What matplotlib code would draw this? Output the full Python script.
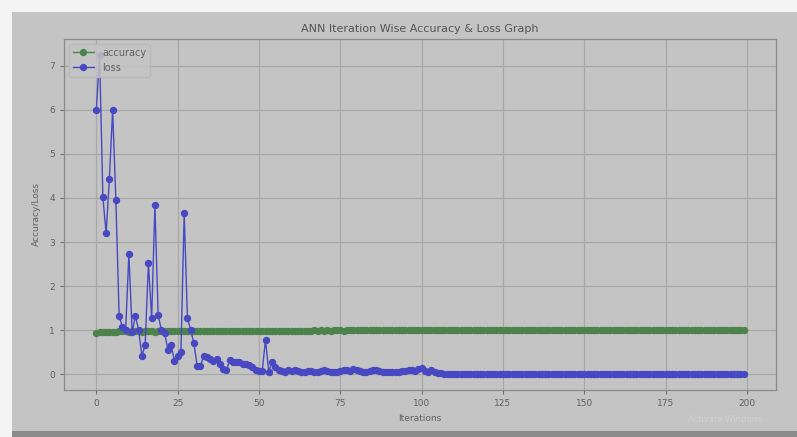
import matplotlib
matplotlib.use("Agg")
import matplotlib.pyplot as plt
from matplotlib.patches import Rectangle

title = "ANN Iteration Wise Accuracy & Loss Graph"
x_label = "Iterations"
y_label = "Accuracy/Loss"
series_names = ["accuracy", "loss"]
x_ticks = [0, 25, 50, 75, 100, 125, 150, 175, 200]
y_ticks = [0, 1, 2, 3, 4, 5, 6, 7]

accuracy = [
    0.93, 0.95, 0.96, 0.95, 0.96, 0.95, 0.96, 0.97, 0.97, 0.97,
    0.96, 0.97, 0.97, 0.97, 0.96, 0.97, 0.97, 0.97, 0.96, 0.97,
    0.97, 0.98, 0.97, 0.98, 0.98, 0.97, 0.98, 0.97, 0.98, 0.98,
    0.98, 0.98, 0.98, 0.98, 0.98, 0.98, 0.98, 0.99, 0.98, 0.99,
    0.98, 0.99, 0.99, 0.98, 0.99, 0.99, 0.99, 0.99, 0.99, 0.99,
    0.99, 0.99, 0.98, 0.99, 0.99, 0.99, 0.99, 0.99, 0.99, 0.99,
    0.99, 0.99, 0.99, 0.99, 0.99, 0.99, 0.99, 1.00, 0.99, 1.00,
    0.99, 1.00, 0.99, 1.00, 1.00, 1.00, 0.99, 1.00, 1.00, 1.00,
    1.00, 1.00, 1.00, 1.00, 1.00, 1.00, 1.00, 1.00, 1.00, 1.00,
    1.00, 1.00, 1.00, 1.00, 1.00, 1.00, 1.00, 1.00, 1.00, 1.00,
    1.00, 1.00, 1.00, 1.00, 1.00, 1.00, 1.00, 1.00, 1.00, 1.00,
    1.00, 1.00, 1.00, 1.00, 1.00, 1.00, 1.00, 1.00, 1.00, 1.00,
    1.00, 1.00, 1.00, 1.00, 1.00, 1.00, 1.00, 1.00, 1.00, 1.00,
    1.00, 1.00, 1.00, 1.00, 1.00, 1.00, 1.00, 1.00, 1.00, 1.00,
    1.00, 1.00, 1.00, 1.00, 1.00, 1.00, 1.00, 1.00, 1.00, 1.00,
    1.00, 1.00, 1.00, 1.00, 1.00, 1.00, 1.00, 1.00, 1.00, 1.00,
    1.00, 1.00, 1.00, 1.00, 1.00, 1.00, 1.00, 1.00, 1.00, 1.00,
    1.00, 1.00, 1.00, 1.00, 1.00, 1.00, 1.00, 1.00, 1.00, 1.00,
    1.00, 1.00, 1.00, 1.00, 1.00, 1.00, 1.00, 1.00, 1.00, 1.00,
    1.00, 1.00, 1.00, 1.00, 1.00, 1.00, 1.00, 1.00, 1.00, 1.00,
]

loss = [
    6.00, 7.25, 4.02, 3.20, 4.43, 6.00, 3.95, 1.32, 1.07, 1.00,
    2.73, 0.95, 1.32, 1.00, 0.41, 0.66, 2.52, 1.27, 3.84, 1.34,
    1.00, 0.93, 0.55, 0.66, 0.30, 0.42, 0.50, 3.66, 1.27, 1.00,
    0.70, 0.18, 0.18, 0.42, 0.38, 0.35, 0.30, 0.35, 0.24, 0.12,
    0.09, 0.32, 0.28, 0.27, 0.28, 0.24, 0.24, 0.20, 0.17, 0.09,
    0.08, 0.08, 0.78, 0.05, 0.28, 0.17, 0.10, 0.08, 0.06, 0.09,
    0.07, 0.10, 0.08, 0.06, 0.05, 0.07, 0.08, 0.06, 0.05, 0.08,
    0.09, 0.07, 0.06, 0.05, 0.06, 0.08, 0.10, 0.09, 0.07, 0.12,
    0.10, 0.08, 0.06, 0.05, 0.07, 0.09, 0.10, 0.07, 0.05, 0.04,
    0.06, 0.05, 0.04, 0.06, 0.08, 0.07, 0.09, 0.10, 0.08, 0.11,
    0.14, 0.08, 0.06, 0.10, 0.05, 0.03, 0.02, 0.01, 0.01, 0.01,
    0.01, 0.01, 0.01, 0.01, 0.01, 0.01, 0.01, 0.01, 0.01, 0.01,
    0.01, 0.01, 0.01, 0.01, 0.01, 0.01, 0.01, 0.01, 0.01, 0.01,
    0.01, 0.01, 0.01, 0.01, 0.01, 0.01, 0.01, 0.01, 0.01, 0.01,
    0.01, 0.01, 0.01, 0.01, 0.01, 0.01, 0.01, 0.01, 0.01, 0.01,
    0.01, 0.01, 0.01, 0.01, 0.01, 0.01, 0.01, 0.01, 0.01, 0.01,
    0.01, 0.01, 0.01, 0.01, 0.01, 0.01, 0.01, 0.01, 0.01, 0.01,
    0.01, 0.01, 0.01, 0.01, 0.01, 0.01, 0.01, 0.01, 0.01, 0.01,
    0.01, 0.01, 0.01, 0.01, 0.01, 0.01, 0.01, 0.01, 0.01, 0.01,
    0.01, 0.01, 0.01, 0.01, 0.01, 0.01, 0.01, 0.01, 0.01, 0.01,
]

iterations = list(range(len(loss)))

BG = "#c4c4c4"
fig = plt.figure(figsize=(7.97, 4.37), dpi=100, facecolor="#f4f4f4")
W, H = 797.0, 437.0
fig.patches.append(Rectangle((12 / W, 6 / H), 1 - 12 / W, (431 - 12) / H,
                             transform=fig.transFigure, facecolor=BG,
                             edgecolor="none", zorder=-10))
fig.patches.append(Rectangle((12 / W, 0), 1 - 12 / W, 6 / H,
                             transform=fig.transFigure, facecolor="#8c8c8c",
                             edgecolor="none", zorder=-10))

ax = fig.add_axes([64 / W, 1 - 390 / H, (776 - 64) / W, (390 - 39) / H])
ax.set_facecolor(BG)
ax.grid(True, color="#a8a8a8", linewidth=0.9)
ax.set_axisbelow(True)

ax.plot(iterations, accuracy, color="#4c834c", marker="o", markersize=4.3,
        linewidth=1.0, label=series_names[0])
ax.plot(iterations, loss, color="#4848c2", marker="o", markersize=4.3,
        linewidth=1.0, label=series_names[1])

ax.set_xlim(-9.95, 208.95)
ax.set_ylim(-0.36, 7.61)
ax.set_xticks(x_ticks)
ax.set_yticks(y_ticks)
ax.tick_params(labelsize=6.5, colors="#707070", labelcolor="#606060", length=3)
for s in ax.spines.values():
    s.set_color("#8a8a8a")
    s.set_linewidth(0.9)

ax.set_title(title, fontsize=8, color="#555555", pad=5)
ax.set_xlabel(x_label, fontsize=6.5, color="#606060", labelpad=4)
ax.set_ylabel(y_label, fontsize=6.5, color="#606060", labelpad=6)

leg = ax.legend(loc="upper left", fontsize=7, frameon=True, framealpha=0.85,
                facecolor=BG, edgecolor="#b8b8b8", labelcolor="#606060",
                borderpad=0.4, handlelength=2.2)

fig.text(725 / W, 1 - 420 / H, "Activate Windows", fontsize=6, color="#d2d2d2",
         ha="center", va="center")

fig.savefig("out.png", dpi=100, facecolor=fig.get_facecolor())
